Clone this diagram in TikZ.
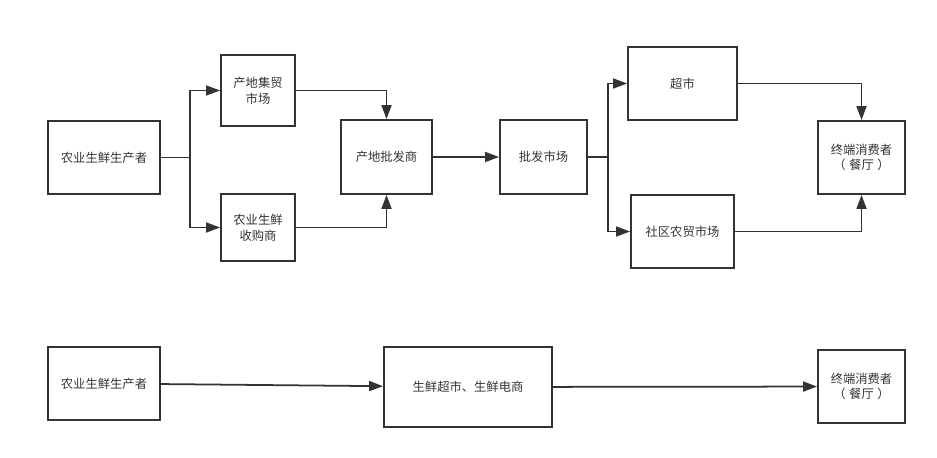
\documentclass[tikz,border=0pt]{standalone}
\usepackage{fontspec}
\setmainfont{Noto Sans CJK SC}
\usepackage{tikz}
\usetikzlibrary{arrows.meta,positioning,calc}
\definecolor{ink}{HTML}{333333}

\begin{document}
\begin{tikzpicture}[x=0.03cm, y=-0.03cm,
    box/.style={draw=ink, line width=1.6pt, rectangle, align=center, text=ink, inner sep=0pt,
                font=\fontsize{10.5pt}{13.5pt}\selectfont},
    flow/.style={-{Triangle[length=4.2mm,width=3mm]}, draw=ink, line width=1.5pt}]
            \useasboundingbox (0,0) rectangle (937,458);

            % upper chain
            \node[box, minimum width=3.36cm, minimum height=2.19cm] (producer) at (104,157.5) {农业生鲜生产者};
            \node[box, minimum width=2.22cm, minimum height=2.13cm] (fair) at (258,90.5) {产地集贸\\市场};
            \node[box, minimum width=2.22cm, minimum height=2.01cm] (buyer) at (258,227.5) {农业生鲜\\收购商};
            \node[box, minimum width=2.73cm, minimum height=2.22cm] (origin) at (386.5,157) {产地批发商};
            \node[box, minimum width=2.61cm, minimum height=2.22cm] (market) at (543.5,157) {批发市场};
            \node[box, minimum width=3.27cm, minimum height=2.19cm] (super) at (682.5,83.5) {超市};
            \node[box, minimum width=3.09cm, minimum height=2.19cm] (community) at (682.5,231.5) {社区农贸市场};
            \node[box, minimum width=2.61cm, minimum height=2.19cm] (consumer) at (861.5,157.5) {终端消费者\\（\hspace{3pt}餐厅\hspace{3pt}）};

            \coordinate (split1) at (190,157.5);
            \coordinate (split2) at (608,157);

            \draw[draw=ink, line width=1.5pt] (producer.east) -- (split1);
            \draw[flow] (split1) |- (fair.west);
            \draw[flow] (split1) |- (buyer.west);
            \draw[flow] (fair.east) -| (origin.north);
            \draw[flow] (buyer.east) -| (origin.south);
            \draw[flow] (origin) -- (market);
            \draw[draw=ink, line width=1.5pt] (market.east) -- (split2);
            \draw[flow] (split2) |- (super.west);
            \draw[flow] (split2) |- (community.west);
            \draw[flow] (super.east) -| (consumer.north);
            \draw[flow] (community.east) -| (consumer.south);

            % lower chain
            \node[box, minimum width=3.36cm, minimum height=2.19cm] (producer2) at (104,383.5) {农业生鲜生产者};
            \node[box, minimum width=5.04cm, minimum height=2.40cm] (fresh) at (468,387) {生鲜超市、生鲜电商};
            \node[box, minimum width=2.61cm, minimum height=2.19cm] (consumer2) at (861.5,386.5) {终端消费者\\（\hspace{3pt}餐厅\hspace{3pt}）};

            \draw[flow] (producer2) -- (fresh);
            \draw[flow] (fresh) -- (consumer2);
        \end{tikzpicture}
\end{document}
